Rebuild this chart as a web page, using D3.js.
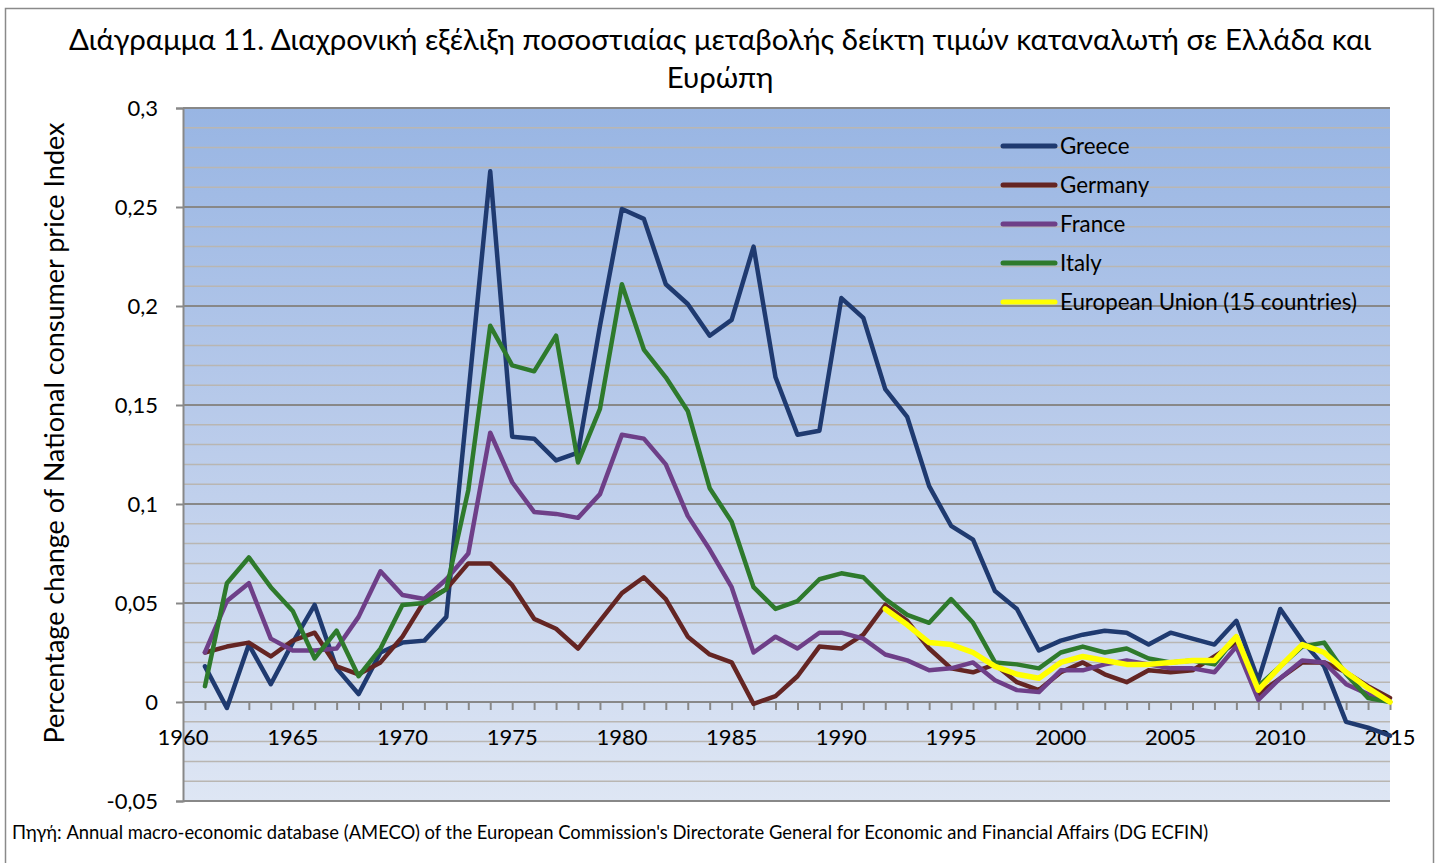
<!DOCTYPE html>
<html>
<head>
<meta charset="utf-8">
<script src="https://cdn.jsdelivr.net/npm/d3@7"></script>
<style>
  body { margin: 0; background: #fff; }
  text { font-family: Lato, "Open Sans", sans-serif; fill: #000; }
</style>
</head>
<body>
<div id="chart"></div>
<script>
// data
var years = d3.range(1961, 2016);
var euYears = d3.range(1992, 2016);

var greece = [0.018, -0.003, 0.029, 0.009, 0.030, 0.049, 0.017, 0.004, 0.025, 0.030,
  0.031, 0.043, 0.155, 0.268, 0.134, 0.133, 0.122, 0.126, 0.190, 0.249,
  0.244, 0.211, 0.201, 0.185, 0.193, 0.230, 0.164, 0.135, 0.137, 0.204,
  0.194, 0.158, 0.144, 0.109, 0.089, 0.082, 0.056, 0.047, 0.026, 0.031,
  0.034, 0.036, 0.035, 0.029, 0.035, 0.032, 0.029, 0.041, 0.011, 0.047,
  0.031, 0.018, -0.010, -0.013, -0.017];

var germany = [0.025, 0.028, 0.030, 0.023, 0.031, 0.035, 0.018, 0.014, 0.020, 0.033,
  0.051, 0.057, 0.070, 0.070, 0.059, 0.042, 0.037, 0.027, 0.041, 0.055,
  0.063, 0.052, 0.033, 0.024, 0.020, -0.001, 0.003, 0.013, 0.028, 0.027,
  0.034, 0.049, 0.041, 0.027, 0.017, 0.015, 0.019, 0.010, 0.006, 0.015,
  0.020, 0.014, 0.010, 0.016, 0.015, 0.016, 0.023, 0.030, 0.004, 0.012,
  0.020, 0.020, 0.015, 0.008, 0.002];

var france = [0.025, 0.051, 0.060, 0.032, 0.026, 0.026, 0.027, 0.043, 0.066, 0.054,
  0.052, 0.062, 0.075, 0.136, 0.111, 0.096, 0.095, 0.093, 0.105, 0.135,
  0.133, 0.120, 0.094, 0.077, 0.058, 0.025, 0.033, 0.027, 0.035, 0.035,
  0.032, 0.024, 0.021, 0.016, 0.017, 0.020, 0.011, 0.006, 0.005, 0.016,
  0.016, 0.019, 0.021, 0.019, 0.017, 0.017, 0.015, 0.028, 0.001, 0.012,
  0.021, 0.020, 0.009, 0.004, 0.000];

var italy = [0.008, 0.060, 0.073, 0.058, 0.046, 0.022, 0.036, 0.013, 0.027, 0.049,
  0.050, 0.057, 0.107, 0.190, 0.170, 0.167, 0.185, 0.121, 0.148, 0.211,
  0.178, 0.164, 0.147, 0.108, 0.091, 0.058, 0.047, 0.051, 0.062, 0.065,
  0.063, 0.052, 0.044, 0.040, 0.052, 0.040, 0.020, 0.019, 0.017, 0.025,
  0.028, 0.025, 0.027, 0.022, 0.020, 0.021, 0.019, 0.033, 0.008, 0.018,
  0.028, 0.030, 0.014, 0.002, 0.000];

var eu15 = [0.047, 0.039, 0.030, 0.029, 0.025, 0.018, 0.014, 0.012, 0.020, 0.023,
  0.021, 0.019, 0.019, 0.020, 0.021, 0.021, 0.033, 0.006, 0.018, 0.029,
  0.025, 0.015, 0.007, 0.000];

var seriesNames = ["Greece", "Germany", "France", "Italy", "European Union (15 countries)"];
var seriesColors = ["#1f3a70", "#642523", "#6e3f88", "#2e7a2c", "#ffff00"];
var xTicks = [1960, 1965, 1970, 1975, 1980, 1985, 1990, 1995, 2000, 2005, 2010, 2015];
var yTicks = [-0.05, 0, 0.05, 0.1, 0.15, 0.2, 0.25, 0.3];

var titleLines = ["Διάγραμμα 11. Διαχρονική εξέλιξη ποσοστιαίας μεταβολής δείκτη τιμών καταναλωτή σε Ελλάδα και", "Ευρώπη"];
var yTitle = "Percentage change of National consumer price Index";
var sourceText = "Πηγή: Annual macro-economic database (AMECO) of the European Commission's Directorate General for Economic and Financial Affairs (DG ECFIN)";

var series = [
  { name: seriesNames[0], color: seriesColors[0], values: years.map((y, i) => [y, greece[i]]) },
  { name: seriesNames[1], color: seriesColors[1], values: years.map((y, i) => [y, germany[i]]) },
  { name: seriesNames[2], color: seriesColors[2], values: years.map((y, i) => [y, france[i]]) },
  { name: seriesNames[3], color: seriesColors[3], values: years.map((y, i) => [y, italy[i]]) },
  { name: seriesNames[4], color: seriesColors[4], values: euYears.map((y, i) => [y, eu15[i]]) }
];

var svgWidth = 1440;
var svgHeight = 863;

var margin = { top: 108, right: 50, bottom: 62, left: 183 };
var width = 1390 - margin.left;
var height = 801 - margin.top;

// Greek style numbers: comma as decimal mark, plain hyphen for minus
var locale = d3.formatLocale({ decimal: ",", thousands: ".", grouping: [3], currency: ["", "€"], minus: "-" });
var fmt = locale.format("~g");

var svg = d3.select("#chart")
  .append("svg")
  .attr("width", svgWidth)
  .attr("height", svgHeight);

// chart border
svg.append("rect")
  .attr("x", 5.5)
  .attr("y", 8.5)
  .attr("width", 1428)
  .attr("height", 870)
  .attr("fill", "#fff")
  .attr("stroke", "#8a8a8a")
  .attr("stroke-width", 1.5);

var grad = svg.append("defs").append("linearGradient")
  .attr("id", "plotBg")
  .attr("x1", 0).attr("y1", 0).attr("x2", 0).attr("y2", 1);
grad.append("stop").attr("offset", "0%").attr("stop-color", "#98b5e3");
grad.append("stop").attr("offset", "50%").attr("stop-color", "#bccdeb");
grad.append("stop").attr("offset", "100%").attr("stop-color", "#dee6f4");

var chartGroup = svg.append("g")
  .attr("transform", `translate(${margin.left}, ${margin.top})`);

var xScale = d3.scaleLinear().domain([1960, 2015]).range([0, width]);
var yScale = d3.scaleLinear().domain([-0.05, 0.3]).range([height, 0]);

chartGroup.append("rect")
  .attr("width", width)
  .attr("height", height)
  .attr("fill", "url(#plotBg)");

// minor gridlines every 0.01
var minorTicks = d3.range(-50, 301, 10).map(d => d / 1000).filter(d => Math.round(d * 1000) % 50 !== 0);
chartGroup.append("g")
  .selectAll("line")
  .data(minorTicks)
  .enter()
  .append("line")
  .attr("x1", 0)
  .attr("x2", width)
  .attr("y1", d => yScale(d))
  .attr("y2", d => yScale(d))
  .attr("stroke", "#b9b6b2")
  .attr("stroke-width", 1.5);

// major gridlines
chartGroup.append("g")
  .selectAll("line")
  .data(yTicks)
  .enter()
  .append("line")
  .attr("x1", 0)
  .attr("x2", width)
  .attr("y1", d => yScale(d))
  .attr("y2", d => yScale(d))
  .attr("stroke", "#888888")
  .attr("stroke-width", 2);

// y axis
var leftAxis = d3.axisLeft(yScale)
  .tickValues(yTicks)
  .tickSize(7)
  .tickPadding(18)
  .tickFormat(d => fmt(d));

var yAxis = chartGroup.append("g")
  .call(leftAxis);
yAxis.select(".domain").attr("stroke", "#888888").attr("stroke-width", 2);
yAxis.selectAll(".tick line").attr("stroke", "#888888").attr("stroke-width", 2);
yAxis.selectAll(".tick text").attr("font-size", "22px").attr("font-family", "Lato, sans-serif");

// x axis at zero, ticks every year
var bottomAxis = d3.axisBottom(xScale)
  .tickValues(d3.range(1961, 2016))
  .tickSize(8)
  .tickFormat("");

var xAxis = chartGroup.append("g")
  .attr("transform", `translate(0, ${yScale(0)})`)
  .call(bottomAxis);
xAxis.select(".domain").remove();
xAxis.selectAll(".tick line").attr("stroke", "#888888").attr("stroke-width", 2);

chartGroup.append("g")
  .selectAll("text")
  .data(xTicks)
  .enter()
  .append("text")
  .attr("x", d => xScale(d))
  .attr("y", yScale(0) + 43)
  .attr("text-anchor", "middle")
  .attr("font-size", "22px")
  .text(d => d);

// lines
var line = d3.line()
  .x(d => xScale(d[0]))
  .y(d => yScale(d[1]));

chartGroup.append("g")
  .selectAll("path")
  .data(series)
  .enter()
  .append("path")
  .attr("d", d => line(d.values))
  .attr("fill", "none")
  .attr("stroke", d => d.color)
  .attr("stroke-width", (d, i) => i === 4 ? 5.5 : 4.5)
  .attr("stroke-linejoin", "round")
  .attr("stroke-linecap", "round");

// legend
var legend = svg.append("g")
  .attr("transform", "translate(1001, 146)");

var legendItems = legend.selectAll("g")
  .data(series)
  .enter()
  .append("g")
  .attr("transform", (d, i) => `translate(0, ${i * 39})`);

legendItems.append("line")
  .attr("x1", 2)
  .attr("x2", 54)
  .attr("stroke", d => d.color)
  .attr("stroke-width", 5)
  .attr("stroke-linecap", "round");

legendItems.append("text")
  .attr("x", 59)
  .attr("y", 8)
  .attr("font-size", "22.3px")
  .text(d => d.name);

// title
svg.append("g")
  .selectAll("text")
  .data(titleLines)
  .enter()
  .append("text")
  .attr("x", 720)
  .attr("y", (d, i) => 50 + i * 38)
  .attr("text-anchor", "middle")
  .attr("font-size", "29.4px")
  .text(d => d);

// y axis title
svg.append("text")
  .attr("transform", "translate(64, 433) rotate(-90)")
  .attr("text-anchor", "middle")
  .attr("font-size", "27px")
  .text(yTitle);

// source
svg.append("text")
  .attr("x", 12)
  .attr("y", 839)
  .attr("font-size", "18.4px")
  .text(sourceText);
</script>
</body>
</html>
